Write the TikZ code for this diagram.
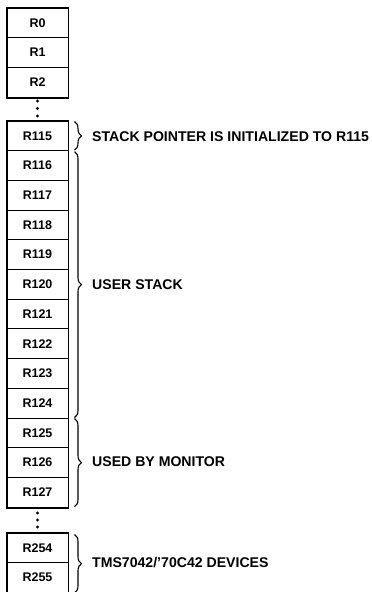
\documentclass[tikz,border=0pt]{standalone}
\usepackage{fontspec}
\setmainfont{Liberation Sans}
\usepackage{tikz}
\usetikzlibrary{positioning,calc,decorations.pathreplacing}

\begin{document}
\begin{tikzpicture}[x=1pt,y=-1pt,
    reg/.style={draw,line width=1pt,minimum width=61pt,minimum height=29.7pt,inner sep=0pt,
      font=\bfseries\fontsize{12.5}{13}\selectfont},
    grp/.style={line width=1.8pt},
    brc/.style={decorate,decoration={brace,amplitude=7pt},line width=1.1pt},
    lbl/.style={anchor=west,inner sep=0pt,font=\bfseries\fontsize{14.1}{15}\selectfont}]
    \useasboundingbox (0,0) rectangle (372,592);
    % first registers
    \node[reg] (r0) at (37.5,22.85) {R0};
    \node[reg] (r1) at (37.5,52.55) {R1};
    \node[reg] (r2) at (37.5,82.25) {R2};
    \draw[grp] (r0.north west) rectangle (r2.south east);
    \foreach \y in {101,108.5,116} \fill (37.5,\y) circle (1.7pt);
    % stack area
    \foreach \i in {115,...,127}
      \node[reg] (r\i) at (37.5,{135.85+(\i-115)*29.7}) {R\i};
    \draw[grp] (r115.north west) rectangle (r127.south east);
    \foreach \y in {513,520,527} \fill (37.5,\y) circle (1.7pt);
    % last registers
    \node[reg] (r254) at (37.5,547.85) {R254};
    \node[reg] (r255) at (37.5,577.55) {R255};
    \draw[grp] (r255.south west) -- (r254.north west) -- (r254.north east) -- (r255.south east);
    % braces
    \draw[brc] ($(r115.north east)+(6,1)$) -- ($(r115.south east)+(6,-1)$);
    \draw[brc] ($(r116.north east)+(6,1.5)$) -- ($(r124.south east)+(6,-1)$);
    \draw[brc] ($(r125.north east)+(6,1)$) -- ($(r127.south east)+(6,-1)$);
    \draw[brc] ($(r254.north east)+(6,2)$) -- ($(r255.south east)+(6,0)$);
    % labels
    \node[lbl] (sp) at (92,136.5) {STACK POINTER IS INITIALIZED TO R115};
    \node[lbl] (us) at (92,284.5) {USER STACK};
    \node[lbl] (mon) at (92,462) {USED BY MONITOR};
    \node[lbl] (dev) at (92,563) {TMS7042/'70C42 DEVICES};
\end{tikzpicture}
\end{document}
